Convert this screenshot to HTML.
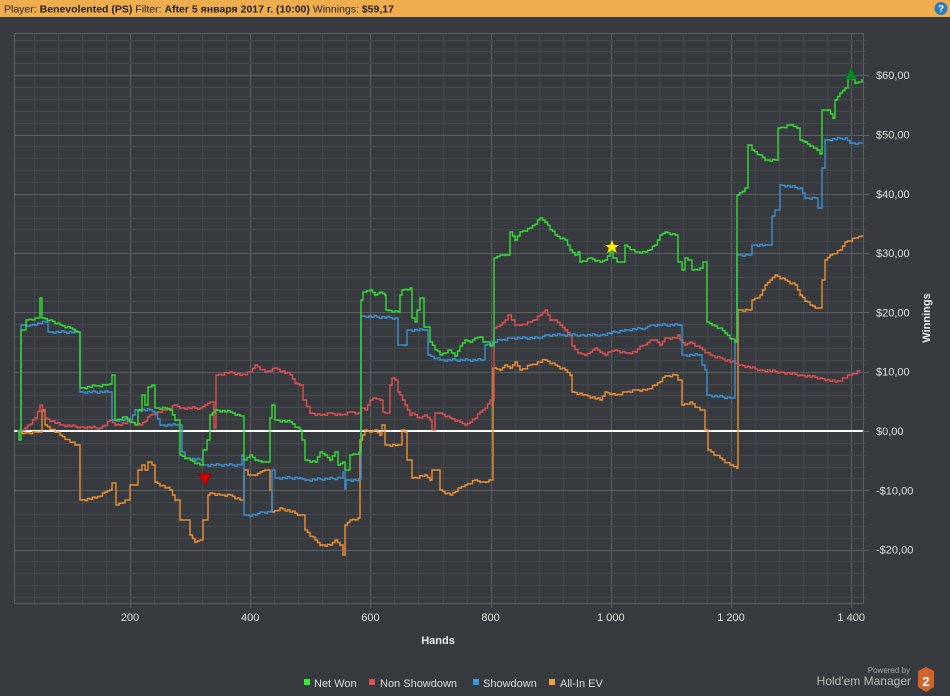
<!DOCTYPE html>
<html><head><meta charset="utf-8"><style>
html,body{margin:0;padding:0;background:#373a3e;width:950px;height:696px;overflow:hidden;font-family:"Liberation Sans","DejaVu Sans",sans-serif}
</style></head><body>
<svg width="950" height="696" xmlns="http://www.w3.org/2000/svg" style="position:absolute;left:0;top:0">
<rect width="950" height="696" fill="#373a3e"/>
<rect x="0" y="0" width="950" height="17" fill="#f0ad4e"/>
<text x="4" y="12.5" font-size="10.5" fill="#222">Player: <tspan font-weight="bold">Benevolented (PS)</tspan> Filter: <tspan font-weight="bold">After 5 января 2017 г. (10:00)</tspan> Winnings: <tspan font-weight="bold">$59,17</tspan></text>
<circle cx="941" cy="8.5" r="6.5" fill="#2a7ac0"/>
<text x="941" y="12" font-size="10" font-weight="bold" fill="#fff" text-anchor="middle">?</text>
<g id="grid"></g>
<rect x="14.5" y="33.5" width="849" height="570" fill="none" stroke="#5c5f63"/>
<line x1="14" y1="431" x2="863" y2="431" stroke="#ffffff" stroke-width="2"/>
<g fill="none" stroke-width="1.4" stroke-linejoin="miter" id="series">
<polyline stroke="#ee9030" points="17,431 25,433 35,432 42,410 45,425 60,435 75,445 80,500 95,498 105,492 110,490 112,483 116,505 125,500 130,485 138,470 142,465 145,470 148,462 152,465 155,482 170,490 175,500 180,520 190,535 195,542 200,540 203,520 208,495 210,493 220,495 230,495 240,500 244,470 248,475 255,475 260,472 265,470 270,490 272,512 280,508 300,515 305,530 315,540 320,545 330,545 335,540 340,545 343,555 345,525 350,520 358,518 360,440 365,430 370,432 375,430 380,435 382,425 385,445 398,445 402,430 405,432 407,460 412,478 425,475 430,480 432,470 440,490 450,495 458,488 465,485 475,480 480,482 486,482 489,480 493,368 500,370 505,365 510,368 515,362 520,370 530,365 545,360 555,365 565,370 570,375 572,392 585,395 600,400 605,392 615,395 625,392 635,390 645,390 655,385 665,376 675,375 678,380 682,405 690,402 700,410 705,430 708,450 720,458 730,465 737,468 738,310 748,310 752,300 760,295 765,285 770,280 775,275 785,280 795,285 800,295 810,305 818,308 822,280 825,260 830,255 840,250 845,242 855,238 862,235"/>
<polyline stroke="#e05050" points="17,431 25,428 35,418 40,405 45,418 60,425 80,427 100,428 110,420 115,425 130,422 140,425 150,415 165,410 175,405 180,408 200,408 205,405 210,402 214,428 216,375 230,372 240,375 250,372 255,365 265,372 275,368 290,375 295,383 300,385 303,400 310,413 320,415 330,413 340,415 350,412 358,413 361,408 365,410 370,400 373,398 380,400 383,412 385,413 390,385 392,378 395,380 398,392 400,395 405,405 410,415 412,413 420,418 425,415 430,420 432,430 435,413 440,413 450,418 460,422 465,425 470,422 480,412 485,408 490,400 494,328 500,325 505,320 508,315 515,325 520,325 530,322 540,315 545,310 550,320 555,320 560,325 565,330 570,335 572,346 578,353 585,355 590,352 595,348 600,352 605,355 608,352 615,350 625,353 635,352 640,346 645,345 650,340 655,340 660,345 665,338 675,338 678,335 680,340 685,345 690,342 700,348 710,355 720,358 740,365 760,370 780,372 800,375 820,378 835,382 850,375 860,370"/>
<polyline stroke="#3a90d0" points="17,431 21,325 30,325 45,322 48,332 80,332 80,392 110,392 112,420 130,420 135,410 150,410 155,413 160,425 178,425 182,452 185,458 200,460 203,465 240,465 242,455 244,515 255,515 260,512 270,512 272,470 275,478 300,478 305,480 340,478 343,472 345,489 346,480 361,480 361,316 395,318 398,345 405,345 407,330 425,330 428,355 440,360 483,360 485,345 500,340 510,338 540,338 545,335 560,335 580,335 600,335 625,330 645,328 650,325 680,325 682,355 700,355 702,365 705,370 707,395 730,398 735,340 737,255 748,255 752,245 765,245 772,216 775,210 780,185 800,188 805,198 815,198 818,208 822,168 825,140 845,138 850,143 858,143 862,144"/>
<polyline stroke="#33dd33" points="17,431 19,440 21,330 24,330 26,320 35,318 40,298 42,318 50,320 60,325 70,328 78,332 80,388 95,386 105,385 110,384 112,375 115,420 125,417 135,425 138,410 142,395 145,405 148,387 152,385 155,408 165,408 170,410 175,420 180,455 190,460 200,465 203,450 207,440 210,415 215,410 230,412 240,416 244,460 250,455 255,460 262,462 265,462 270,418 272,405 275,420 290,422 300,430 302,440 305,460 315,462 320,452 325,455 330,460 335,452 338,465 343,462 345,470 350,455 359,452 361,300 363,292 370,290 375,295 380,292 385,295 386,310 398,312 400,295 402,290 410,288 412,318 415,322 417,310 420,298 424,327 430,342 440,355 448,350 455,356 460,346 465,340 470,342 475,338 480,337 483,342 487,342 490,346 494,258 500,255 505,255 510,232 515,240 520,232 530,228 540,218 545,222 555,235 565,240 570,250 575,255 578,252 580,262 590,258 600,262 605,260 610,252 613,258 615,258 617,262 625,245 635,252 645,252 655,245 660,235 665,232 675,235 678,262 682,270 685,258 688,260 692,270 700,268 703,262 707,322 712,325 720,328 725,333 735,342 737,195 745,188 748,145 752,150 760,155 765,160 775,160 778,128 790,125 797,128 800,140 805,142 810,146 817,150 820,154 822,110 828,110 833,118 835,100 840,93 845,88 848,79 850,76 855,83 858,82 862,79"/>
</g>
<polygon points="199,474 211,474 205,485" fill="#e00000" stroke="#900" stroke-width="0.8"/>
<polygon points="612,240 614,245 619,245 615,248 617,253 612,250 607,253 609,248 605,245 610,245" fill="#ffee00"/>
<polygon points="851,68 857,79 845,79" fill="#0a8a1a" stroke="#064" stroke-width="0.8"/>
<g font-size="11" fill="#e0e0e0" id="ylab"></g>
<g font-size="11" fill="#e0e0e0" text-anchor="middle" id="xlab"></g>
<text x="438" y="644" font-size="11" font-weight="bold" fill="#eee" text-anchor="middle">Hands</text>
<text transform="translate(930,318) rotate(-90)" font-size="11" font-weight="bold" fill="#eee" text-anchor="middle">Winnings</text>
<g font-size="11" fill="#ddd">
<rect x="304" y="679" width="6" height="6" fill="#33ee33"/><text x="314" y="687">Net Won</text>
<rect x="369" y="679" width="6" height="6" fill="#e05050"/><text x="380" y="687">Non Showdown</text>
<rect x="473" y="679" width="6" height="6" fill="#3a9ae0"/><text x="483" y="687">Showdown</text>
<rect x="549" y="679" width="6" height="6" fill="#f0a040"/><text x="560" y="687">All-In EV</text>
</g>
<text x="910" y="673" font-size="8" fill="#aaa" text-anchor="end">Powered by</text>
<text x="911" y="685" font-size="12" fill="#bbb" text-anchor="end">Hold'em Manager</text>
<polygon points="926,667 934,671 934,687 926,692 918,687 918,671" fill="#d0642a"/>
<text x="926" y="686" font-size="13" font-weight="bold" fill="#fff" text-anchor="middle">2</text>
</svg>
<script>
var ns="http://www.w3.org/2000/svg",g=document.getElementById("grid");
function ln(x1,y1,x2,y2,c){var l=document.createElementNS(ns,"line");l.setAttribute("x1",x1);l.setAttribute("y1",y1);l.setAttribute("x2",x2);l.setAttribute("y2",y2);l.setAttribute("stroke",c);l.setAttribute("stroke-width","1");g.appendChild(l);}
for(var h=40;h<=1420;h+=40){var x=Math.round(9.8+0.601*h)+0.5;var maj=h%200==0;ln(x,33,x,maj?608:606,maj?"#5c5f63":"#46494d");}
for(var d=-28;d<=66;d+=2){var y=Math.round(431-5.93*d)+0.5;if(y<34||y>603)continue;var maj=d%10==0;ln(14,y,maj?869:866,y,maj?"#5c5f63":"#46494d");}
var yl=document.getElementById("ylab");
for(var d=-20;d<=60;d+=10){var t=document.createElementNS(ns,"text");t.setAttribute("x",876);t.setAttribute("y",431-5.93*d+4);t.textContent=(d<0?"-$":"$")+Math.abs(d)+",00";yl.appendChild(t);}
var xl=document.getElementById("xlab");
for(var h=200;h<=1400;h+=200){var t=document.createElementNS(ns,"text");t.setAttribute("x",9.8+0.601*h);t.setAttribute("y",621);t.textContent=h>=1000?(Math.floor(h/1000)+" "+String(h%1000).padStart(3,"0")):h;xl.appendChild(t);}
// convert to step lines with small jitter
var pls=document.querySelectorAll("#series polyline");
pls.forEach(function(p){var pts=p.getAttribute("points").trim().split(/\s+/).map(function(s){return s.split(",").map(Number);});
var out=[pts[0]];for(var i=1;i<pts.length;i++){var a=pts[i-1],b=pts[i];
var dx=b[0]-a[0];if(dx>4&&Math.abs(b[1]-a[1])<14){var n=Math.floor(dx/2.5);for(var k=1;k<=n;k++){var x=a[0]+dx*k/n;var y=a[1]+(b[1]-a[1])*k/n+((k*7)%5-2)*0.6;out.push([x,out[out.length-1][1]]);out.push([x,y]);}}
else{out.push([b[0],a[1]]);}out.push(b);}
p.setAttribute("points",out.map(function(q){return q[0].toFixed(1)+","+q[1].toFixed(1);}).join(" "));});
</script>
</body></html>
